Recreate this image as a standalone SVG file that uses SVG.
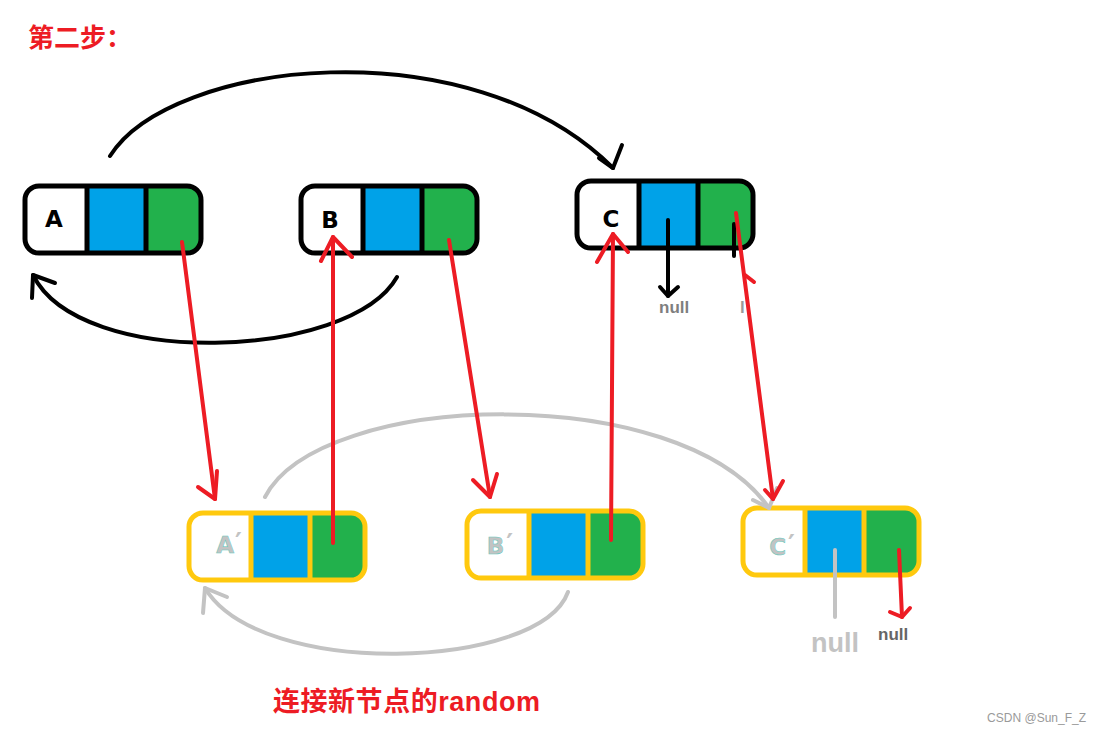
<svg xmlns="http://www.w3.org/2000/svg" width="1099" height="733" viewBox="0 0 1099 733">
<style>
.bg{fill:#fff}
.node-old{stroke:#000;stroke-width:5}
.node-new{stroke:#FFC90E;stroke-width:5}
.blk{fill:none;stroke:#000;stroke-width:4;stroke-linecap:round;stroke-linejoin:round}
.gry{fill:none;stroke:#C3C3C3;stroke-width:4;stroke-linecap:round;stroke-linejoin:round}
.red{fill:none;stroke:#ED1C24;stroke-width:4;stroke-linecap:round;stroke-linejoin:round}
.lbl{font-family:"DejaVu Sans","Liberation Sans",sans-serif;font-weight:bold;font-size:23px;text-anchor:middle}
.lbl-old{fill:#000}
.lbl-new{fill:#C3C3C3;stroke:#5FC9BE;stroke-width:0.5}
.prime{font-size:26px;stroke:none}
.null{font-family:"Liberation Sans",Arial,sans-serif;font-weight:bold}
.red-title{font-family:"Liberation Sans","Noto Sans CJK SC",sans-serif;font-weight:bold;fill:#ED1C24}
</style>
<defs>
<g id="cells">
<rect x="0" y="0" width="176" height="67" rx="14" fill="#fff" stroke="none"/>
<rect x="62" y="0" width="59" height="67" fill="#00A2E8" stroke="none"/>
<path d="M121 0 H162 A14 14 0 0 1 176 14 V53 A14 14 0 0 1 162 67 H121 Z" fill="#22B14C" stroke="none"/>
<rect x="0" y="0" width="176" height="67" rx="14" fill="none"/>
<line x1="62" y1="0" x2="62" y2="67"/>
<line x1="121" y1="0" x2="121" y2="67"/>
</g>
</defs>
<rect class="bg" x="0" y="0" width="1099" height="733"/>

<text class="red-title" x="28" y="47" font-size="26" font-family="Noto Sans CJK SC, sans-serif">第二步：</text>

<g id="node-A"><use href="#cells" class="node-old" transform="translate(25,186)"/><text class="lbl lbl-old" x="54" y="227">A</text></g>
<g id="node-B"><use href="#cells" class="node-old" transform="translate(301,186)"/><text class="lbl lbl-old" x="330" y="228">B</text></g>
<g id="node-C"><use href="#cells" class="node-old" transform="translate(577,181)"/><text class="lbl lbl-old" x="611" y="227">C</text></g>
<g id="node-A2"><use href="#cells" class="node-new" transform="translate(189,513)"/><text class="lbl lbl-new" x="229" y="553">A<tspan class="prime" dx="1" dy="-1">′</tspan></text></g>
<g id="node-B2"><use href="#cells" class="node-new" transform="translate(467,511)"/><text class="lbl lbl-new" x="500" y="554">B<tspan class="prime" dx="2" dy="-1">′</tspan></text></g>
<g id="node-C2"><use href="#cells" class="node-new" transform="translate(743,508)"/><text class="lbl lbl-new" x="782" y="555">C<tspan class="prime" dx="2" dy="-1">′</tspan></text></g>

<g id="connectors">
<path class="blk" d="M110 156 C170 60 470 25 613 168"/>
<polyline class="blk" points="599,158 613,168 622,145"/>
<path class="blk" d="M397 277 C350 360 80 370 33 275"/>
<polyline class="blk" points="32,298 33,275 55,283"/>
<line class="blk" x1="668" y1="220" x2="668" y2="296"/>
<polyline class="blk" points="660,287 668,296 678,287"/>
<line class="blk" x1="734" y1="224" x2="734" y2="256"/>

<path class="gry" d="M265 497 C320 390 680 380 769 508"/>
<polyline class="gry" points="753,500 769,508 777,488"/>
<path class="gry" d="M568 592 C540 670 260 680 205 588"/>
<polyline class="gry" points="203,613 205,588 227,597"/>
<line class="gry" x1="835" y1="550" x2="835" y2="617"/>

<line class="red" x1="182" y1="242" x2="215" y2="499"/>
<polyline class="red" points="198,487 215,499 217,471"/>
<line class="red" x1="333" y1="543" x2="333" y2="237"/>
<polyline class="red" points="321,261 333,237 352,257"/>
<line class="red" x1="449" y1="240" x2="490" y2="497"/>
<polyline class="red" points="473,480 490,497 497,474"/>
<line class="red" x1="611" y1="540" x2="613" y2="234"/>
<polyline class="red" points="597,262 613,234 628,252"/>
<line class="red" x1="736" y1="213" x2="773" y2="499"/>
<polyline class="red" points="765,490 773,499 783,481"/>
<line class="red" x1="745" y1="275" x2="754" y2="282"/>
<line class="red" x1="899" y1="550" x2="902" y2="617"/>
<polyline class="red" points="890,612 902,617 910,608"/>
</g>

<text class="null" x="659" y="313" font-size="17" fill="#7F7F7F">null</text>
<text class="null" x="740" y="313" font-size="17" fill="#9A9A9A">l</text>
<text class="null" x="811" y="652" font-size="27" fill="#C3C3C3">null</text>
<text class="null" x="878" y="640" font-size="17" fill="#666666">null</text>

<text class="red-title" x="273" y="711" font-size="27" textLength="267" lengthAdjust="spacing">连接新节点的random</text>
<text x="1086" y="722" font-family="Liberation Sans, Arial, sans-serif" font-size="12" fill="#9A9A9A" text-anchor="end">CSDN @Sun_F_Z</text>
</svg>
